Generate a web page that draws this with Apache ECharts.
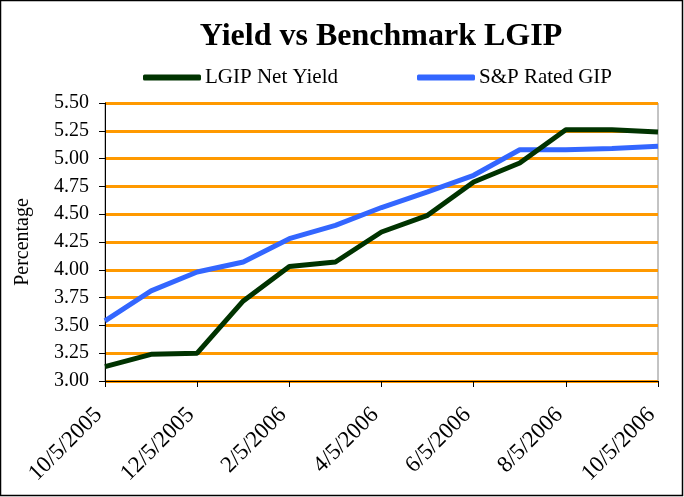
<!DOCTYPE html>
<html><head><meta charset="utf-8">
<script src="https://cdn.jsdelivr.net/npm/echarts@6/dist/echarts.min.js"></script>
<style>html,body{margin:0;padding:0;background:#fff}#c{width:684px;height:497px}</style>
</head><body><div id="c"></div>
<script>
const categories = ["10/5/2005","11/5/2005","12/5/2005","1/5/2006","2/5/2006","3/5/2006","4/5/2006","5/5/2006","6/5/2006","7/5/2006","8/5/2006","9/5/2006","10/5/2006"];
const lgipNetYield = [3.13,3.24,3.25,3.72,4.03,4.07,4.34,4.49,4.79,4.96,5.26,5.26,5.24];
const spRatedGip = [3.54,3.81,3.98,4.07,4.28,4.40,4.56,4.70,4.85,5.08,5.08,5.09,5.11];
const titleText = "Yield vs Benchmark LGIP";
const yAxisName = "Percentage";

const font = "'Liberation Serif', 'DejaVu Serif', serif";
const chart = echarts.init(document.getElementById('c'));
chart.setOption({
  animation: false,
  backgroundColor: '#fff',
  title: { text: titleText, left: 376, top: 16, textAlign: 'center',
    textStyle: { fontFamily: font, fontWeight: 'bold', fontSize: 32, color: '#000' } },
  legend: [
    { data: ['LGIP Net Yield'], left: 138, top: 62, icon: 'roundRect', itemWidth: 58, itemHeight: 6, itemGap: 0,
      textStyle: { fontFamily: font, fontSize: 21, color: '#000', padding: [0,0,0,-1] } },
    { data: ['S&P Rated GIP'], left: 412, top: 62, icon: 'roundRect', itemWidth: 58, itemHeight: 6, itemGap: 0,
      textStyle: { fontFamily: font, fontSize: 21, color: '#000', padding: [0,0,0,-1] } }
  ],
  grid: { left: 105, right: 26, top: 103, bottom: 116, show: true, borderColor: '#888', borderWidth: 1, backgroundColor: 'transparent' },
  xAxis: {
    type: 'category', data: categories, boundaryGap: false,
    axisLine: { lineStyle: { color: '#000', width: 1 } },
    axisTick: { show: true, interval: 1, length: 6, lineStyle: { color: '#000' } },
    axisLabel: { interval: 1, rotate: 45, margin: 24, fontFamily: font, fontSize: 23, color: '#000',
      formatter: v => '{d|' + v + '}{s|\u00a0}',
      rich: { d: { fontFamily: font, fontSize: 23, color: '#000' }, s: { fontSize: 23, width: 9 } } },
    splitLine: { show: false }
  },
  yAxis: {
    type: 'value', min: 3.0, max: 5.5, interval: 0.25,
    name: yAxisName, nameLocation: 'middle', nameGap: 72, nameRotate: 90,
    nameTextStyle: { fontFamily: font, fontSize: 20, color: '#000' },
    axisLine: { show: true, lineStyle: { color: '#000', width: 1 } },
    axisTick: { show: true, length: 6, lineStyle: { color: '#000' } },
    axisLabel: { margin: 16, fontFamily: font, fontSize: 20, color: '#000', formatter: v => v.toFixed(2) },
    splitLine: { show: true, lineStyle: { color: '#FF9900', width: 3 } }
  },
  series: [
    { name: 'LGIP Net Yield', type: 'line', data: lgipNetYield, showSymbol: false, symbol: 'none',
      itemStyle: { color: '#003300' }, lineStyle: { color: '#003300', width: 5 }, z: 3 },
    { name: 'S&P Rated GIP', type: 'line', data: spRatedGip, showSymbol: false, symbol: 'none',
      itemStyle: { color: '#3366FF' }, lineStyle: { color: '#3366FF', width: 5 }, z: 2 }
  ],
  graphic: [
    { type: 'rect', shape: { x: 0.5, y: 0.5, width: 682, height: 495 }, style: { fill: 'none', stroke: '#000', lineWidth: 1.5 }, silent: true }
  ]
});
</script></body></html>
